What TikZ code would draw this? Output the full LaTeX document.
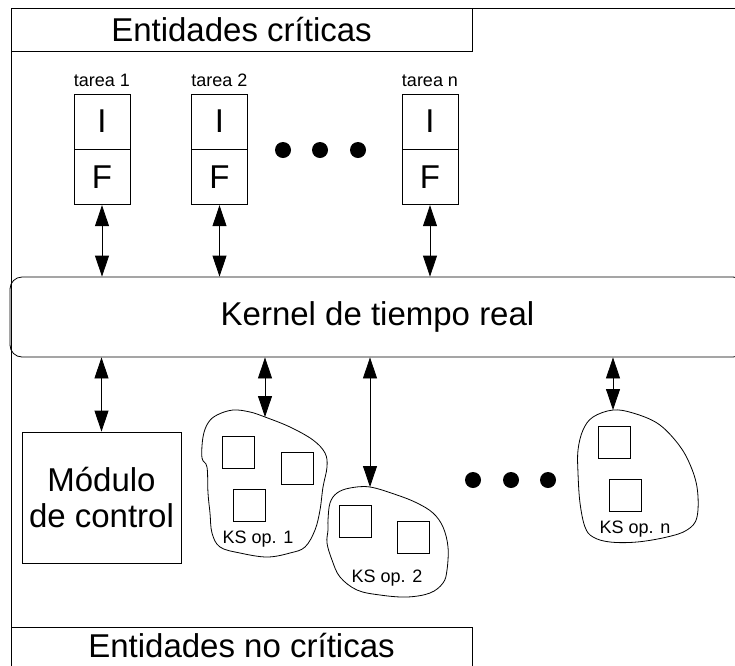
\documentclass[tikz,border=0pt]{standalone}
\usepackage{fontspec}
\setmainfont{Liberation Sans}
\usetikzlibrary{arrows.meta}
\begin{document}
\begin{tikzpicture}[x=1pt,y=-1pt,
  line width=0.8pt,
  big/.style={font=\fontsize{33}{36}\selectfont},
  small/.style={font=\fontsize{18}{21}\selectfont},
  cell/.style={draw, minimum width=56pt, minimum height=55pt, inner sep=0pt, big},
  dbl/.style={{Triangle[length=21pt,width=14pt]}-{Triangle[length=21pt,width=14pt]}},
  dot/.style={circle, fill=black, minimum size=16pt, inner sep=0pt},
  sq/.style={draw, minimum size=32pt, inner sep=0pt},
  blob/.style={draw, line width=0.8pt},
]
\useasboundingbox (0,0) rectangle (735,665);
\clip (0,0) rectangle (735,665);

% outer frame
\draw (11,8) rectangle (760,700);

% top box
\node[draw, big, minimum width=461pt, minimum height=43pt, inner sep=0pt] (crit) at (241.5,29.5) {Entidades críticas};

% bottom box
\draw (11,627) rectangle (472,700);
\node[big, anchor=base] (nocrit) at (241.5,657) {Entidades no críticas};

% tasks
\node[cell] (i1) at (102,121.5) {I};
\node[cell, anchor=north] (f1) at (i1.south) {F};
\node[small, anchor=base] (l1) at (102,86) {tarea 1};

\node[cell] (i2) at (219.5,121.5) {I};
\node[cell, anchor=north] (f2) at (i2.south) {F};
\node[small, anchor=base] (l2) at (219.5,86) {tarea 2};

\node[cell] (in) at (430,121.5) {I};
\node[cell, anchor=north] (fn) at (in.south) {F};
\node[small, anchor=base] (ln) at (430,86) {tarea n};

\node[dot] (d1) at (283,150) {};
\node[dot] (d2) at (320,150) {};
\node[dot] (d3) at (358,150) {};

% kernel
\node[draw, rounded corners=12pt, minimum width=735pt, minimum height=80pt, big] (k) at (377.5,317) {Kernel de tiempo real};

\draw[dbl] (f1.south) -- (f1.south |- k.north);
\draw[dbl] (f2.south) -- (f2.south |- k.north);
\draw[dbl] (fn.south) -- (fn.south |- k.north);

% control module
\node[draw, big, minimum width=159pt, minimum height=131pt, align=center, inner sep=0pt] (mod) at (101.5,497.5) {Módulo\\de control};
\draw[dbl] (k.south -| mod.north) -- (mod.north);

% KS op. 1
\draw[blob] plot[smooth cycle, tension=0.6] coordinates {(265,417) (290,427) (313,440) (325,453) (327,467) (323,487) (320,510) (315,530) (305,547) (290,553) (267,557) (240,553) (220,547) (212,533) (210,513) (208,493) (207,467) (202,458) (203,437) (208,423) (217,415) (233,410) (250,412)};
\coordinate (ks1) at (265,417);
\node[sq] (s11) at (238.5,452.5) {};
\node[sq] (s12) at (297,468.5) {};
\node[sq] (s13) at (249,505) {};
\node[small, anchor=base] (t1) at (258,543) {KS op. 1};

% KS op. 2
\draw[blob] plot[smooth cycle, tension=0.6] coordinates {(370,487) (397,495) (417,503) (433,513) (443,527) (448,547) (447,570) (443,583) (430,593) (407,597) (380,595) (357,590) (340,577) (332,560) (327,543) (328,530) (328,520) (330,503) (337,493) (350,488)};
\coordinate (ks2) at (370,487);
\node[sq] (s21) at (355,521) {};
\node[sq] (s22) at (413,537) {};
\node[small, anchor=base] (t2) at (387,582) {KS op. 2};

% KS op. n
\draw[blob] plot[smooth cycle, tension=0.6] coordinates {(613,410) (633,413) (657,423) (675,440) (688,460) (697,487) (697,517) (687,530) (667,537) (637,542) (610,542) (593,537) (585,527) (580,503) (578,473) (578,450) (583,430) (593,417)};
\coordinate (ksn) at (613,410);
\node[sq] (sn1) at (614,442) {};
\node[sq] (sn2) at (625,495) {};
\node[small, anchor=base] (tn) at (635,533) {KS op. n};

\draw[dbl] (k.south -| ks1) -- (ks1);
\draw[dbl] (k.south -| ks2) -- (ks2);
\draw[dbl] (k.south -| ksn) -- (ksn);

\node[dot] (e1) at (473,480) {};
\node[dot] (e2) at (511,480) {};
\node[dot] (e3) at (548,480) {};
\end{tikzpicture}
\end{document}
